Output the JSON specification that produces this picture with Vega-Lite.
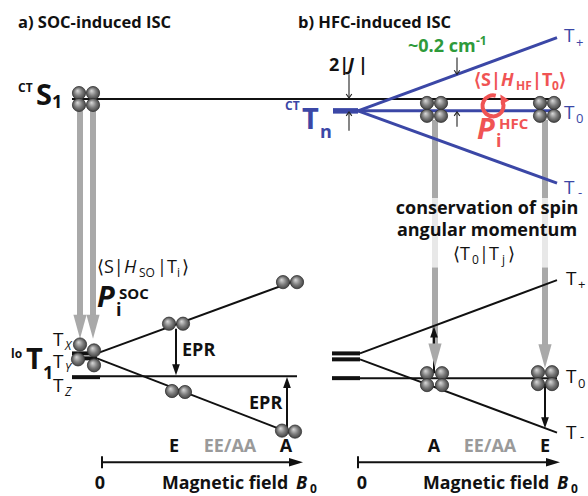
{
  "$schema": "https://vega.github.io/schema/vega-lite/v6.json",
  "width": 588,
  "height": 496,
  "padding": 0,
  "autosize": {"type": "fit", "contains": "padding"},
  "background": "white",
  "config": {"view": {"stroke": null}, "text": {"font": "Open Sans"}},
  "datasets": {
    "lines": [
      {"x": 72, "y": 100, "x2": 557, "y2": 100, "k": "level"},
      {"x": 97, "y": 357, "x2": 297, "y2": 283, "k": "level"},
      {"x": 97, "y": 362, "x2": 297, "y2": 440, "k": "level"},
      {"x": 100, "y": 380, "x2": 297, "y2": 380, "k": "level"},
      {"x": 360, "y": 357, "x2": 557, "y2": 283, "k": "level"},
      {"x": 360, "y": 363, "x2": 557, "y2": 437, "k": "level"},
      {"x": 360, "y": 382, "x2": 557, "y2": 382, "k": "level"},
      {"x": 102, "y": 467, "x2": 296, "y2": 467, "k": "level"},
      {"x": 102, "y": 461, "x2": 102, "y2": 473, "k": "level"},
      {"x": 358, "y": 467, "x2": 553, "y2": 467, "k": "level"},
      {"x": 358, "y": 461, "x2": 358, "y2": 473, "k": "level"},
      {"x": 176, "y": 332, "x2": 176, "y2": 370, "k": "level"},
      {"x": 287, "y": 433, "x2": 287, "y2": 390, "k": "level"},
      {"x": 434, "y": 377, "x2": 434, "y2": 338, "k": "level"},
      {"x": 545, "y": 388, "x2": 545, "y2": 425, "k": "level"},
      {"x": 72, "y": 357, "x2": 97, "y2": 357, "k": "zf"},
      {"x": 72, "y": 362, "x2": 97, "y2": 362, "k": "zf"},
      {"x": 72, "y": 381, "x2": 100, "y2": 381, "k": "zf"},
      {"x": 332, "y": 357, "x2": 360, "y2": 357, "k": "zf"},
      {"x": 332, "y": 363, "x2": 360, "y2": 363, "k": "zf"},
      {"x": 332, "y": 382, "x2": 360, "y2": 382, "k": "zf"},
      {"x": 349, "y": 75, "x2": 349, "y2": 98, "k": "gap"},
      {"x": 349, "y": 132, "x2": 349, "y2": 114, "k": "gap"},
      {"x": 457, "y": 58, "x2": 457, "y2": 74, "k": "gap"},
      {"x": 457, "y": 128, "x2": 457, "y2": 114, "k": "gap"},
      {"x": 358, "y": 112, "x2": 557, "y2": 38, "k": "ct"},
      {"x": 358, "y": 112, "x2": 557, "y2": 185, "k": "ct"},
      {"x": 358, "y": 112, "x2": 555, "y2": 112, "k": "ct"},
      {"x": 333, "y": 112, "x2": 358, "y2": 112, "k": "ct0"},
      {"x": 80, "y": 112, "x2": 80, "y2": 320, "k": "isc"},
      {"x": 93, "y": 112, "x2": 93, "y2": 320, "k": "isc"},
      {"x": 435, "y": 121, "x2": 435, "y2": 200, "k": "isc"},
      {"x": 435, "y": 270, "x2": 435, "y2": 350, "k": "isc"},
      {"x": 545, "y": 121, "x2": 545, "y2": 200, "k": "isc"},
      {"x": 545, "y": 270, "x2": 545, "y2": 350, "k": "isc"},
      {"x": 435, "y": 200, "x2": 435, "y2": 270, "k": "iscfade"},
      {"x": 545, "y": 200, "x2": 545, "y2": 270, "k": "iscfade"}
    ],
    "heads": [
      {"x": 80, "y": 330, "k": "isc"},
      {"x": 93, "y": 330, "k": "isc"},
      {"x": 435, "y": 359, "k": "isc"},
      {"x": 545, "y": 360, "k": "isc"},
      {"x": 176, "y": 373.5, "k": "down"},
      {"x": 545, "y": 427, "k": "down"},
      {"x": 287, "y": 386.5, "k": "up"},
      {"x": 434, "y": 335.5, "k": "up"},
      {"x": 296, "y": 467, "k": "axis"},
      {"x": 553, "y": 467, "k": "axis"},
      {"x": 349, "y": 99, "k": "chevdown"},
      {"x": 457, "y": 75, "k": "chevdown"},
      {"x": 349, "y": 113, "k": "chevup"},
      {"x": 457, "y": 113, "k": "chevup"},
      {"x": 493, "y": 107, "k": "ring"},
      {"x": 503, "y": 100, "k": "ringhead"}
    ],
    "balls": [
      {"x": 79, "y": 94}, {"x": 93, "y": 94}, {"x": 79, "y": 106}, {"x": 93, "y": 106},
      {"x": 80, "y": 348}, {"x": 78, "y": 363}, {"x": 94, "y": 354}, {"x": 94, "y": 369},
      {"x": 169, "y": 327}, {"x": 183, "y": 327},
      {"x": 283, "y": 285}, {"x": 297, "y": 285},
      {"x": 172, "y": 395}, {"x": 185, "y": 396},
      {"x": 282, "y": 435}, {"x": 295, "y": 436},
      {"x": 427, "y": 104}, {"x": 441, "y": 104}, {"x": 427, "y": 117}, {"x": 441, "y": 117},
      {"x": 540, "y": 104}, {"x": 554, "y": 104}, {"x": 540, "y": 117}, {"x": 554, "y": 117},
      {"x": 427, "y": 377}, {"x": 442, "y": 377}, {"x": 427, "y": 389}, {"x": 442, "y": 389},
      {"x": 538, "y": 376}, {"x": 552, "y": 376}, {"x": 538, "y": 388}, {"x": 552, "y": 388}
    ],
    "texts": [
      {"x": 18, "y": 28, "t": "a) SOC-induced ISC", "f": "title", "c": "ink"},
      {"x": 298, "y": 28, "t": "b) HFC-induced ISC", "f": "title", "c": "ink"},
      {"x": 18, "y": 93, "t": "CT", "f": "sup", "c": "ink"},
      {"x": 36, "y": 106, "t": "S", "f": "state", "c": "ink"},
      {"x": 52, "y": 109, "t": "1", "f": "lbl", "c": "ink"},
      {"x": 97, "y": 276, "t": "⟨S|", "f": "op", "c": "ink"},
      {"x": 124, "y": 276, "t": "H", "f": "opital", "c": "ink"},
      {"x": 139, "y": 280, "t": "SO", "f": "opsub", "c": "ink"},
      {"x": 157, "y": 276, "t": "|T", "f": "op", "c": "ink"},
      {"x": 177, "y": 280, "t": "i", "f": "opsub", "c": "ink"},
      {"x": 182, "y": 276, "t": "⟩", "f": "op", "c": "ink"},
      {"x": 97, "y": 310, "t": "P", "f": "prob", "c": "ink"},
      {"x": 116, "y": 319, "t": "i", "f": "lbl", "c": "ink"},
      {"x": 119, "y": 302, "t": "SOC", "f": "supm", "c": "ink"},
      {"x": 53, "y": 350, "t": "T", "f": "lvl", "c": "ink"},
      {"x": 65, "y": 354, "t": "X", "f": "lvlital", "c": "ink"},
      {"x": 53, "y": 372, "t": "T", "f": "lvl", "c": "ink"},
      {"x": 65, "y": 376, "t": "Y", "f": "lvlital", "c": "ink"},
      {"x": 53, "y": 396, "t": "T", "f": "lvl", "c": "ink"},
      {"x": 65, "y": 400, "t": "Z", "f": "lvlital", "c": "ink"},
      {"x": 11, "y": 362, "t": "lo", "f": "sup", "c": "ink"},
      {"x": 26, "y": 373, "t": "T", "f": "state", "c": "ink"},
      {"x": 43, "y": 383, "t": "1", "f": "lbl", "c": "ink"},
      {"x": 182, "y": 360, "t": "EPR", "f": "lbl", "c": "ink"},
      {"x": 249, "y": 413, "t": "EPR", "f": "lbl", "c": "ink"},
      {"x": 174, "y": 457, "t": "E", "f": "mark", "c": "ink"},
      {"x": 230, "y": 457, "t": "EE/AA", "f": "mark", "c": "ee"},
      {"x": 286, "y": 457, "t": "A", "f": "mark", "c": "ink"},
      {"x": 100, "y": 494, "t": "0", "f": "mark", "c": "ink"},
      {"x": 162, "y": 494, "t": "Magnetic field", "f": "axis", "c": "ink"},
      {"x": 296, "y": 494, "t": "B", "f": "var", "c": "ink"},
      {"x": 310, "y": 498, "t": "0", "f": "sup", "c": "ink"},
      {"x": 408, "y": 53, "t": "~0.2 cm", "f": "lbl", "c": "zfs"},
      {"x": 476, "y": 45, "t": "-1", "f": "sup", "c": "zfs"},
      {"x": 329, "y": 72, "t": "2|", "f": "lbl", "c": "ink"},
      {"x": 348, "y": 72, "t": "J", "f": "var", "c": "ink"},
      {"x": 358, "y": 72, "t": "|", "f": "lbl", "c": "ink"},
      {"x": 285, "y": 111, "t": "CT", "f": "sup", "c": "ct"},
      {"x": 302, "y": 130, "t": "T", "f": "state", "c": "ct"},
      {"x": 320, "y": 139, "t": "n", "f": "lbl", "c": "ct"},
      {"x": 474, "y": 87, "t": "⟨S|", "f": "lbl", "c": "hfc"},
      {"x": 501, "y": 87, "t": "H", "f": "var", "c": "hfc"},
      {"x": 516, "y": 91, "t": "HF", "f": "sup", "c": "hfc"},
      {"x": 532, "y": 87, "t": "|T", "f": "lbl", "c": "hfc"},
      {"x": 552, "y": 91, "t": "0", "f": "sup", "c": "hfc"},
      {"x": 559, "y": 87, "t": "⟩", "f": "lbl", "c": "hfc"},
      {"x": 477, "y": 140, "t": "P", "f": "prob", "c": "hfc"},
      {"x": 496, "y": 149, "t": "i", "f": "lbl", "c": "hfc"},
      {"x": 499, "y": 130, "t": "HFC", "f": "supm", "c": "hfc"},
      {"x": 564, "y": 42, "t": "T", "f": "lvl", "c": "ct"},
      {"x": 576, "y": 47, "t": "+", "f": "lvlsub", "c": "ct"},
      {"x": 564, "y": 120, "t": "T", "f": "lvl", "c": "ct"},
      {"x": 576, "y": 124, "t": "0", "f": "lvlsub", "c": "ct"},
      {"x": 564, "y": 196, "t": "T", "f": "lvl", "c": "ct"},
      {"x": 578, "y": 199, "t": "-", "f": "lvlsub", "c": "ct"},
      {"x": 487, "y": 216, "t": "conservation of spin", "f": "mark", "c": "ink"},
      {"x": 487, "y": 238, "t": "angular momentum", "f": "mark", "c": "ink"},
      {"x": 453, "y": 263, "t": "⟨T", "f": "op", "c": "ink"},
      {"x": 472, "y": 267, "t": "0", "f": "opsub", "c": "ink"},
      {"x": 479, "y": 263, "t": "|T", "f": "op", "c": "ink"},
      {"x": 502, "y": 267, "t": "j", "f": "opsub", "c": "ink"},
      {"x": 508, "y": 263, "t": "⟩", "f": "op", "c": "ink"},
      {"x": 566, "y": 288, "t": "T", "f": "lvl", "c": "ink"},
      {"x": 578, "y": 292, "t": "+", "f": "lvlsub", "c": "ink"},
      {"x": 566, "y": 387, "t": "T", "f": "lvl", "c": "ink"},
      {"x": 578, "y": 392, "t": "0", "f": "lvlsub", "c": "ink"},
      {"x": 566, "y": 443, "t": "T", "f": "lvl", "c": "ink"},
      {"x": 580, "y": 445, "t": "-", "f": "lvlsub", "c": "ink"},
      {"x": 434, "y": 457, "t": "A", "f": "mark", "c": "ink"},
      {"x": 490, "y": 457, "t": "EE/AA", "f": "mark", "c": "ee"},
      {"x": 545, "y": 457, "t": "E", "f": "mark", "c": "ink"},
      {"x": 362, "y": 494, "t": "0", "f": "mark", "c": "ink"},
      {"x": 423, "y": 494, "t": "Magnetic field", "f": "axis", "c": "ink"},
      {"x": 557, "y": 494, "t": "B", "f": "var", "c": "ink"},
      {"x": 571, "y": 498, "t": "0", "f": "sup", "c": "ink"}
    ]
  },
  "encoding": {
    "x": {"field": "x", "type": "quantitative", "scale": {"domain": [0, 588], "nice": false, "zero": false}, "axis": null},
    "y": {"field": "y", "type": "quantitative", "scale": {"domain": [0, 496], "nice": false, "zero": false, "reverse": true}, "axis": null}
  },
  "layer": [
    {"data": {"name": "lines"}, "transform": [{"filter": "datum.k === 'isc'"}],
     "mark": {"type": "rule", "strokeWidth": 6, "color": "#a9a9a9", "strokeCap": "butt"},
     "encoding": {"x2": {"field": "x2"}, "y2": {"field": "y2"}}},
    {"data": {"name": "lines"}, "transform": [{"filter": "datum.k === 'iscfade'"}],
     "mark": {"type": "rule", "strokeWidth": 6, "color": "#e8e8e8", "strokeCap": "butt"},
     "encoding": {"x2": {"field": "x2"}, "y2": {"field": "y2"}}},
    {"data": {"name": "lines"}, "transform": [{"filter": "datum.k === 'level'"}],
     "mark": {"type": "rule", "strokeWidth": 2, "color": "#111111", "strokeCap": "butt"},
     "encoding": {"x2": {"field": "x2"}, "y2": {"field": "y2"}}},
    {"data": {"name": "lines"}, "transform": [{"filter": "datum.k === 'zf'"}],
     "mark": {"type": "rule", "strokeWidth": 4, "color": "#111111", "strokeCap": "butt"},
     "encoding": {"x2": {"field": "x2"}, "y2": {"field": "y2"}}},
    {"data": {"name": "lines"}, "transform": [{"filter": "datum.k === 'gap'"}],
     "mark": {"type": "rule", "strokeWidth": 1.1, "color": "#222222", "strokeCap": "butt"},
     "encoding": {"x2": {"field": "x2"}, "y2": {"field": "y2"}}},
    {"data": {"name": "lines"}, "transform": [{"filter": "datum.k === 'ct'"}],
     "mark": {"type": "rule", "strokeWidth": 3, "color": "#3b47a6", "strokeCap": "butt"},
     "encoding": {"x2": {"field": "x2"}, "y2": {"field": "y2"}}},
    {"data": {"name": "lines"}, "transform": [{"filter": "datum.k === 'ct0'"}],
     "mark": {"type": "rule", "strokeWidth": 5.5, "color": "#3b47a6", "strokeCap": "butt"},
     "encoding": {"x2": {"field": "x2"}, "y2": {"field": "y2"}}},
    {"data": {"name": "heads"}, "transform": [{"filter": "datum.k === 'isc'"}],
     "mark": {"type": "point", "shape": "M-0.55,-1L0.55,-1L0,1Z", "filled": true, "opacity": 1, "color": "#a9a9a9", "size": 576}},
    {"data": {"name": "heads"}, "transform": [{"filter": "datum.k === 'down'"}],
     "mark": {"type": "point", "shape": "M-0.7,-1L0.7,-1L0,1Z", "filled": true, "opacity": 1, "color": "#111111", "size": 121}},
    {"data": {"name": "heads"}, "transform": [{"filter": "datum.k === 'up'"}],
     "mark": {"type": "point", "shape": "M-0.7,1L0.7,1L0,-1Z", "filled": true, "opacity": 1, "color": "#111111", "size": 121}},
    {"data": {"name": "heads"}, "transform": [{"filter": "datum.k === 'axis'"}],
     "mark": {"type": "point", "shape": "M-1,-0.6L1,0L-1,0.6Z", "filled": true, "opacity": 1, "color": "#111111", "size": 196}},
    {"data": {"name": "heads"}, "transform": [{"filter": "datum.k === 'chevdown'"}],
     "mark": {"type": "point", "shape": "M-0.7,-1L0,0L0.7,-1", "filled": false, "opacity": 1, "color": "#222222", "strokeWidth": 1.1, "size": 64}},
    {"data": {"name": "heads"}, "transform": [{"filter": "datum.k === 'chevup'"}],
     "mark": {"type": "point", "shape": "M-0.7,1L0,0L0.7,1", "filled": false, "opacity": 1, "color": "#222222", "strokeWidth": 1.1, "size": 64}},
    {"data": {"name": "balls"},
     "mark": {"type": "point", "shape": "circle", "filled": true, "opacity": 1, "size": 175,
              "fill": {"gradient": "radial", "x1": 0.38, "y1": 0.32, "r1": 0, "x2": 0.5, "y2": 0.5, "r2": 0.55,
                       "stops": [{"offset": 0, "color": "#dcdcdc"}, {"offset": 0.55, "color": "#7a7a7a"}, {"offset": 1, "color": "#3c3c3c"}]},
              "stroke": "#333333", "strokeWidth": 0.8}},
    {"data": {"name": "heads"}, "transform": [{"filter": "datum.k === 'ring'"}],
     "mark": {"type": "point", "shape": "M0.26,-0.97A1,1 0 1,0 0.91,-0.42", "filled": false, "opacity": 1, "color": "#f05454", "strokeWidth": 4, "size": 441}},
    {"data": {"name": "heads"}, "transform": [{"filter": "datum.k === 'ringhead'"}],
     "mark": {"type": "point", "shape": "M-0.9,0.8L0.9,0.8L0,-1Z", "angle": -30, "filled": true, "opacity": 1, "color": "#f05454", "size": 110}},
    {"data": {"name": "texts"}, "transform": [{"filter": "datum.f === 'title'"}],
     "mark": {"type": "text", "fontWeight": "bold", "fontSize": 16.5, "align": "left", "baseline": "alphabetic"},
     "encoding": {"text": {"field": "t"}, "color": {"field": "c", "type": "nominal", "legend": null, "scale": {"domain": ["ink", "ct", "hfc", "zfs", "ee"], "range": ["#111111", "#3b47a6", "#f05454", "#2e9a3a", "#9a9a9a"]}}}},
    {"data": {"name": "texts"}, "transform": [{"filter": "datum.f === 'axis'"}],
     "mark": {"type": "text", "fontWeight": "bold", "fontSize": 17.8, "align": "left", "baseline": "alphabetic"},
     "encoding": {"text": {"field": "t"}, "color": {"field": "c", "type": "nominal", "legend": null, "scale": {"domain": ["ink", "ct", "hfc", "zfs", "ee"], "range": ["#111111", "#3b47a6", "#f05454", "#2e9a3a", "#9a9a9a"]}}}},
    {"data": {"name": "texts"}, "transform": [{"filter": "datum.f === 'lbl'"}],
     "mark": {"type": "text", "fontWeight": "bold", "fontSize": 18, "align": "left", "baseline": "alphabetic"},
     "encoding": {"text": {"field": "t"}, "color": {"field": "c", "type": "nominal", "legend": null, "scale": {"domain": ["ink", "ct", "hfc", "zfs", "ee"], "range": ["#111111", "#3b47a6", "#f05454", "#2e9a3a", "#9a9a9a"]}}}},
    {"data": {"name": "texts"}, "transform": [{"filter": "datum.f === 'state'"}],
     "mark": {"type": "text", "fontWeight": "bold", "fontSize": 29, "align": "left", "baseline": "alphabetic"},
     "encoding": {"text": {"field": "t"}, "color": {"field": "c", "type": "nominal", "legend": null, "scale": {"domain": ["ink", "ct", "hfc", "zfs", "ee"], "range": ["#111111", "#3b47a6", "#f05454", "#2e9a3a", "#9a9a9a"]}}}},
    {"data": {"name": "texts"}, "transform": [{"filter": "datum.f === 'sup'"}],
     "mark": {"type": "text", "fontWeight": "bold", "fontSize": 12, "align": "left", "baseline": "alphabetic"},
     "encoding": {"text": {"field": "t"}, "color": {"field": "c", "type": "nominal", "legend": null, "scale": {"domain": ["ink", "ct", "hfc", "zfs", "ee"], "range": ["#111111", "#3b47a6", "#f05454", "#2e9a3a", "#9a9a9a"]}}}},
    {"data": {"name": "texts"}, "transform": [{"filter": "datum.f === 'supm'"}],
     "mark": {"type": "text", "fontWeight": "bold", "fontSize": 15, "align": "left", "baseline": "alphabetic"},
     "encoding": {"text": {"field": "t"}, "color": {"field": "c", "type": "nominal", "legend": null, "scale": {"domain": ["ink", "ct", "hfc", "zfs", "ee"], "range": ["#111111", "#3b47a6", "#f05454", "#2e9a3a", "#9a9a9a"]}}}},
    {"data": {"name": "texts"}, "transform": [{"filter": "datum.f === 'op'"}],
     "mark": {"type": "text", "fontSize": 18, "align": "left", "baseline": "alphabetic"},
     "encoding": {"text": {"field": "t"}, "color": {"field": "c", "type": "nominal", "legend": null, "scale": {"domain": ["ink", "ct", "hfc", "zfs", "ee"], "range": ["#111111", "#3b47a6", "#f05454", "#2e9a3a", "#9a9a9a"]}}}},
    {"data": {"name": "texts"}, "transform": [{"filter": "datum.f === 'opsub'"}],
     "mark": {"type": "text", "fontSize": 12, "align": "left", "baseline": "alphabetic"},
     "encoding": {"text": {"field": "t"}, "color": {"field": "c", "type": "nominal", "legend": null, "scale": {"domain": ["ink", "ct", "hfc", "zfs", "ee"], "range": ["#111111", "#3b47a6", "#f05454", "#2e9a3a", "#9a9a9a"]}}}},
    {"data": {"name": "texts"}, "transform": [{"filter": "datum.f === 'opital'"}],
     "mark": {"type": "text", "fontStyle": "italic", "fontSize": 18, "align": "left", "baseline": "alphabetic"},
     "encoding": {"text": {"field": "t"}, "color": {"field": "c", "type": "nominal", "legend": null, "scale": {"domain": ["ink", "ct", "hfc", "zfs", "ee"], "range": ["#111111", "#3b47a6", "#f05454", "#2e9a3a", "#9a9a9a"]}}}},
    {"data": {"name": "texts"}, "transform": [{"filter": "datum.f === 'lvl'"}],
     "mark": {"type": "text", "fontSize": 19, "align": "left", "baseline": "alphabetic"},
     "encoding": {"text": {"field": "t"}, "color": {"field": "c", "type": "nominal", "legend": null, "scale": {"domain": ["ink", "ct", "hfc", "zfs", "ee"], "range": ["#111111", "#3b47a6", "#f05454", "#2e9a3a", "#9a9a9a"]}}}},
    {"data": {"name": "texts"}, "transform": [{"filter": "datum.f === 'lvlsub'"}],
     "mark": {"type": "text", "fontSize": 13, "align": "left", "baseline": "alphabetic"},
     "encoding": {"text": {"field": "t"}, "color": {"field": "c", "type": "nominal", "legend": null, "scale": {"domain": ["ink", "ct", "hfc", "zfs", "ee"], "range": ["#111111", "#3b47a6", "#f05454", "#2e9a3a", "#9a9a9a"]}}}},
    {"data": {"name": "texts"}, "transform": [{"filter": "datum.f === 'lvlital'"}],
     "mark": {"type": "text", "fontStyle": "italic", "fontSize": 12, "align": "left", "baseline": "alphabetic"},
     "encoding": {"text": {"field": "t"}, "color": {"field": "c", "type": "nominal", "legend": null, "scale": {"domain": ["ink", "ct", "hfc", "zfs", "ee"], "range": ["#111111", "#3b47a6", "#f05454", "#2e9a3a", "#9a9a9a"]}}}},
    {"data": {"name": "texts"}, "transform": [{"filter": "datum.f === 'prob'"}],
     "mark": {"type": "text", "fontWeight": "bold", "fontStyle": "italic", "fontSize": 29, "align": "left", "baseline": "alphabetic"},
     "encoding": {"text": {"field": "t"}, "color": {"field": "c", "type": "nominal", "legend": null, "scale": {"domain": ["ink", "ct", "hfc", "zfs", "ee"], "range": ["#111111", "#3b47a6", "#f05454", "#2e9a3a", "#9a9a9a"]}}}},
    {"data": {"name": "texts"}, "transform": [{"filter": "datum.f === 'var'"}],
     "mark": {"type": "text", "fontWeight": "bold", "fontStyle": "italic", "fontSize": 18, "align": "left", "baseline": "alphabetic"},
     "encoding": {"text": {"field": "t"}, "color": {"field": "c", "type": "nominal", "legend": null, "scale": {"domain": ["ink", "ct", "hfc", "zfs", "ee"], "range": ["#111111", "#3b47a6", "#f05454", "#2e9a3a", "#9a9a9a"]}}}},
    {"data": {"name": "texts"}, "transform": [{"filter": "datum.f === 'mark'"}],
     "mark": {"type": "text", "fontWeight": "bold", "fontSize": 18, "align": "center", "baseline": "alphabetic"},
     "encoding": {"text": {"field": "t"}, "color": {"field": "c", "type": "nominal", "legend": null, "scale": {"domain": ["ink", "ct", "hfc", "zfs", "ee"], "range": ["#111111", "#3b47a6", "#f05454", "#2e9a3a", "#9a9a9a"]}}}}
  ]
}
